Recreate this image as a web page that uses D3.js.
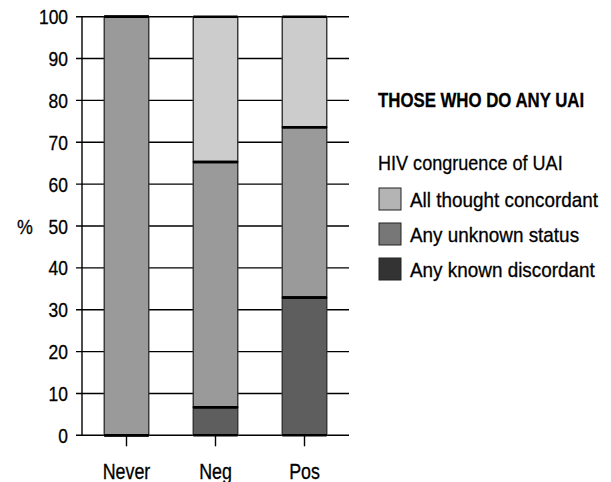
<!DOCTYPE html>
<html>
<head>
<meta charset="utf-8">
<script src="https://cdn.jsdelivr.net/npm/d3@7"></script>
<style>
  body { margin: 0; background: #fff; }
  text { font-family: "Liberation Sans", Arial, sans-serif; fill: #000; stroke: #000; stroke-width: 0.3px; }
</style>
</head>
<body>
<div id="chart"></div>
<script>
var categories = ['Never', 'Neg', 'Pos'];
var seriesKeys = ['Any known discordant', 'Any unknown status', 'All thought concordant'];
// percentages per category, bottom to top
var discordant = [0, 6.7, 32.9];
var unknown = [100, 58.6, 40.7];
var concordant = [0, 34.7, 26.4];
var yTicks = [0, 10, 20, 30, 40, 50, 60, 70, 80, 90, 100];

var barColors = ['#5e5e5e', '#9a9a9a', '#cccccc'];
var legendColors = ['#333333', '#777777', '#b4b4b4'];

var W = 611, H = 482;
var svg = d3.select('#chart').append('svg')
  .attr('width', W).attr('height', H);

// squeeze text horizontally (around its anchor) to look like a condensed face
function condense(sel, k) {
  sel.each(function() {
    var t = d3.select(this);
    var tx = +t.attr('x') || 0, ty = +t.attr('y') || 0;
    t.attr('x', 0).attr('y', 0)
      .attr('transform', 'translate(' + tx + ',' + ty + ') scale(' + k + ',1)');
  });
}

var table = categories.map(function(c, i) {
  var row = {cat: c};
  row[seriesKeys[0]] = discordant[i];
  row[seriesKeys[1]] = unknown[i];
  row[seriesKeys[2]] = concordant[i];
  return row;
});
var stack = d3.stack().keys(seriesKeys)(table);

var x = d3.scaleBand().domain(categories).range([82, 349]).paddingInner(0.5).paddingOuter(0.25);
var y = d3.scaleLinear().domain([0, 100]).range([435.3, 16.7]);

// grid lines
svg.append('g').selectAll('line').data(yTicks).enter().append('line')
  .attr('x1', 76).attr('x2', 349)
  .attr('y1', function(d) { return y(d); }).attr('y2', function(d) { return y(d); })
  .attr('stroke', '#000').attr('stroke-width', 1.4);

// y axis line
svg.append('line')
  .attr('x1', 82).attr('x2', 82).attr('y1', y(100)).attr('y2', y(0))
  .attr('stroke', '#000').attr('stroke-width', 1.4);

// tick labels
svg.append('g').selectAll('text').data(yTicks).enter().append('text')
  .attr('x', 68).attr('y', function(d) { return y(d); })
  .attr('dy', '0.36em')
  .attr('text-anchor', 'end')
  .style('font-size', '21px')
  .text(function(d) { return d; })
  .call(condense, 0.83);

svg.append('text')
  .attr('x', 25).attr('y', y(50)).attr('dy', '0.36em')
  .attr('text-anchor', 'middle')
  .style('font-size', '21px')
  .text('%')
  .call(condense, 0.85);

// x ticks + labels
var xc = function(c) { return x(c) + x.bandwidth() / 2; };
svg.append('g').selectAll('line').data(categories).enter().append('line')
  .attr('x1', xc).attr('x2', xc).attr('y1', y(0)).attr('y2', y(0) + 11)
  .attr('stroke', '#000').attr('stroke-width', 1.4);
svg.append('g').selectAll('text').data(categories).enter().append('text')
  .attr('x', xc).attr('y', 478.5)
  .attr('text-anchor', 'middle')
  .style('font-size', '21.5px')
  .text(function(d) { return d; })
  .call(condense, 0.83);

// bars
var layers = svg.append('g').selectAll('g').data(stack).enter().append('g')
  .attr('fill', function(d, i) { return barColors[i]; });

layers.selectAll('rect').data(function(d) { return d; }).enter().append('rect')
  .attr('x', function(d) { return x(d.data.cat); })
  .attr('width', x.bandwidth())
  .attr('y', function(d) { return y(d[1]); })
  .attr('height', function(d) { return y(d[0]) - y(d[1]); })
  .attr('stroke', '#333').attr('stroke-width', 1.4);

// segment boundaries
var edges = [];
stack.forEach(function(s) {
  s.forEach(function(d) {
    edges.push({cat: d.data.cat, v: d[0]});
    edges.push({cat: d.data.cat, v: d[1]});
  });
});
svg.append('g').selectAll('line').data(edges).enter().append('line')
  .attr('x1', function(d) { return x(d.cat); })
  .attr('x2', function(d) { return x(d.cat) + x.bandwidth(); })
  .attr('y1', function(d) { return y(d.v); })
  .attr('y2', function(d) { return y(d.v); })
  .attr('stroke', '#000').attr('stroke-width', 2.6);

// legend
var lg = svg.append('g');
lg.append('text').attr('x', 378).attr('y', 107)
  .style('font-size', '21px').style('font-weight', 'bold')
  .text('THOSE WHO DO ANY UAI')
  .call(condense, 0.80);
lg.append('text').attr('x', 378).attr('y', 170)
  .style('font-size', '21px')
  .text('HIV congruence of UAI')
  .call(condense, 0.86);

var legendOrder = [2, 1, 0];
var items = lg.selectAll('.item').data(legendOrder).enter().append('g')
  .attr('class', 'item')
  .attr('transform', function(d, i) { return 'translate(379,' + (188 + i * 35) + ')'; });
items.append('rect')
  .attr('width', 22).attr('height', 22)
  .attr('fill', function(d) { return legendColors[d]; })
  .attr('stroke', '#222').attr('stroke-width', 1);
items.append('text')
  .attr('x', 31).attr('y', 11).attr('dy', '0.36em')
  .style('font-size', '21px')
  .text(function(d) { return seriesKeys[d]; })
  .call(condense, 0.9);
</script>
</body>
</html>
